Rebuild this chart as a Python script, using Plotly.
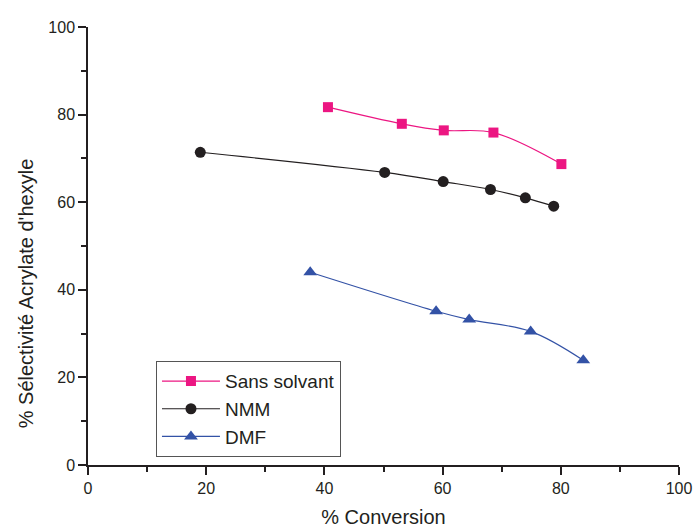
import plotly.graph_objects as go

# Data
sans_x = [40.6, 53.1, 60.2, 68.6, 80.1]
sans_y = [81.7, 77.9, 76.4, 75.9, 68.7]

nmm_x = [19.0, 50.2, 60.1, 68.1, 74.0, 78.8]
nmm_y = [71.4, 66.8, 64.7, 62.9, 61.0, 59.1]

dmf_x = [37.6, 58.9, 64.5, 74.9, 83.8]
dmf_y = [44.0, 35.1, 33.2, 30.5, 23.9]

names = ["Sans solvant", "NMM", "DMF"]
x_ticks = [0, 20, 40, 60, 80, 100]
y_ticks = [0, 20, 40, 60, 80, 100]

PINK = "#EC1682"
BLACK = "#231F20"
BLUE = "#3352A6"
FONT = "Liberation Sans, Arial, sans-serif"

fig = go.Figure()
fig.add_trace(go.Scatter(x=sans_x, y=sans_y, name=names[0], mode="lines+markers",
                         line=dict(color=PINK, width=1.2, shape="spline", smoothing=1),
                         marker=dict(symbol="square", size=10, color=PINK)))
fig.add_trace(go.Scatter(x=nmm_x, y=nmm_y, name=names[1], mode="lines+markers",
                         line=dict(color=BLACK, width=1.2, shape="spline", smoothing=1),
                         marker=dict(symbol="circle", size=11, color=BLACK)))
fig.add_trace(go.Scatter(x=dmf_x, y=dmf_y, name=names[2], mode="lines+markers",
                         line=dict(color=BLUE, width=1.2, shape="spline", smoothing=1),
                         marker=dict(symbol="triangle-up", size=12, color=BLUE)))

axis_common = dict(
    showline=True, linecolor=BLACK, linewidth=1.5, mirror=False,
    showgrid=False, zeroline=False, automargin=False,
    ticks="outside", ticklen=8, tickwidth=1.5, tickcolor=BLACK,
    tickfont=dict(family=FONT, size=16, color=BLACK),
    minor=dict(ticks="outside", ticklen=5, tickwidth=1.5, tickcolor=BLACK, dtick=10, showgrid=False),
)

fig.update_layout(
    width=696, height=530,
    margin=dict(l=88, r=17, t=27, b=65),
    paper_bgcolor="white", plot_bgcolor="white",
    font=dict(family=FONT, color=BLACK),
    xaxis=dict(range=[0, 100], tickvals=x_ticks, **axis_common,
               title=dict(text="% Conversion", font=dict(family=FONT, size=20, color=BLACK), standoff=14)),
    yaxis=dict(range=[0, 100], tickvals=y_ticks, **axis_common),
    showlegend=True,
    legend=dict(x=0.115, y=0.237, xanchor="left", yanchor="top",
                bgcolor="white", bordercolor="#555555", borderwidth=1,
                font=dict(family=FONT, size=19, color=BLACK),
                itemwidth=58, tracegroupgap=0),
    annotations=[dict(text="% Sélectivité Acrylate d'hexyle", textangle=-90,
                      xref="paper", yref="paper", x=-0.105, y=0.392,
                      xanchor="center", yanchor="middle", showarrow=False,
                      font=dict(family=FONT, size=20, color=BLACK))],
)

fig.write_html("out.html", config={"displayModeBar": False},
               post_script="document.body.style.margin='0px';")
